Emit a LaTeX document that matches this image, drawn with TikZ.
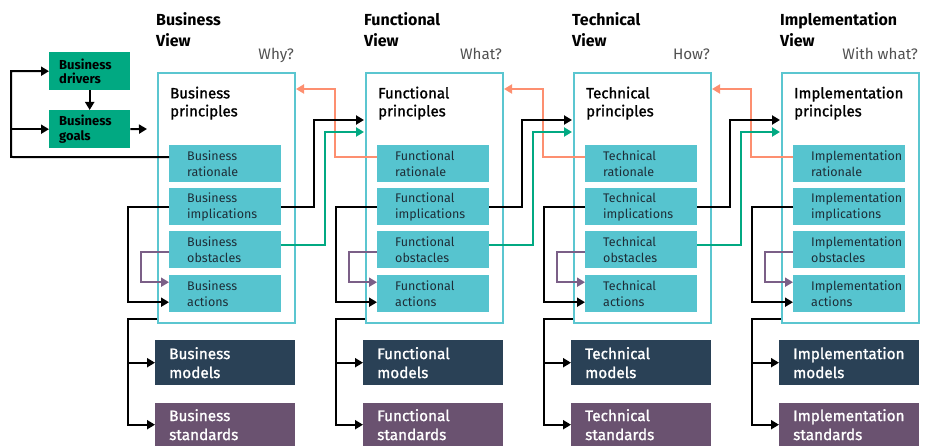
\documentclass[tikz,border=0pt]{standalone}
\usepackage{fontspec}
\setmainfont{Fira Sans}
\newfontfamily\medfont[FakeBold=1.2]{Fira Sans}
\usetikzlibrary{arrows.meta,calc}
\definecolor{cyanfill}{HTML}{56C4CF}
\definecolor{cyanline}{HTML}{5BC6D0}
\definecolor{hpegreen}{HTML}{01A982}
\definecolor{navy}{HTML}{2A4156}
\definecolor{plum}{HTML}{6A5270}
\definecolor{salmon}{HTML}{FD8F70}
\definecolor{plumline}{HTML}{7B5F87}
\definecolor{qgray}{HTML}{505050}
\definecolor{intext}{HTML}{1E2E38}
\begin{document}
\begin{tikzpicture}[x=1pt,y=-1pt,
  conn/.style={line width=2pt},
  arr/.style={conn,-{Triangle[length=8pt,width=9pt]}},
  blackarr/.style={arr,black},
  greenarr/.style={arr,hpegreen},
  salmonarr/.style={arr,salmon},
  plumarr/.style={arr,plumline},
  outerbox/.style={draw=cyanline,line width=2pt,fill=white,anchor=north west,inner sep=0pt,minimum width=137pt,minimum height=250pt},
  inbox/.style={fill=cyanfill,anchor=north west,inner sep=0pt,minimum width=112pt,minimum height=37pt},
  inlabel/.style={anchor=west,inner sep=0pt,align=left,text=intext,font=\fontsize{12.5}{16}\selectfont},
  title/.style={anchor=north west,inner sep=0pt,align=left,font=\bfseries\fontsize{16}{21}\selectfont},
  question/.style={anchor=base east,inner sep=0pt,text=qgray,font=\fontsize{15.2}{18}\selectfont},
  princ/.style={anchor=north west,inner sep=0pt,align=left,font=\medfont\fontsize{15}{18}\selectfont},
  modbox/.style={fill=navy,anchor=north west,inner sep=0pt,minimum width=140pt,minimum height=45pt},
  stdbox/.style={fill=plum,anchor=north west,inner sep=0pt,minimum width=140pt,minimum height=43pt},
  boxlabel/.style={anchor=west,inner sep=0pt,align=left,text=white,font=\medfont\fontsize{15.3}{19}\selectfont},
  greenbox/.style={fill=hpegreen,anchor=north west,inner xsep=10pt,inner ysep=0pt,minimum width=81pt,minimum height=38pt,text width=61pt,align=left,font=\bfseries\fontsize{13}{14.5}\selectfont}
]
\useasboundingbox (0,0) rectangle (937,446);

% left green boxes
\node[greenbox] (D) at (49,52) {Business\\drivers};
\node[greenbox] (G) at (49,110) {Business\\goals};

\foreach \i/\w/\q in {0/Business/Why?,1/Functional/What?,2/Technical/How?,3/Implementation/With what?}{
  \pgfmathsetmacro{\L}{157+208*\i}
  \node[title] (T\i) at (\L-1,12.5) {\w\\View};
  \node[question] (Q\i) at (\L+137,60) {\q};
  \node[outerbox] (P\i) at (\L,72) {};
  \node[princ] (Pt\i) at (\L+13,86.5) {\w\\principles};
  \node[inbox] (R\i) at (\L+12,145) {};
  \node[inlabel] (Rt\i) at ($(R\i.west)+(18,0)$) {\w\\rationale};
  \node[inbox] (I\i) at (\L+12,188) {};
  \node[inlabel] (It\i) at ($(I\i.west)+(18,0)$) {\w\\implications};
  \node[inbox] (O\i) at (\L+12,231) {};
  \node[inlabel] (Ot\i) at ($(O\i.west)+(18,0)$) {\w\\obstacles};
  \node[inbox] (A\i) at (\L+12,275) {};
  \node[inlabel] (At\i) at ($(A\i.west)+(18,0)$) {\w\\actions};
  \node[modbox] (M\i) at (\L-2,340) {};
  \node[boxlabel] (Mt\i) at ($(M\i.west)+(14,0)$) {\w\\models};
  \node[stdbox] (S\i) at (\L-2,403) {};
  \node[boxlabel] (St\i) at ($(S\i.west)+(14,0)$) {\w\\standards};
  % within-column connectors
  \draw[plumarr] ($(O\i.west)+(0,2.5)$) -- ++(-28,0) |- ($(A\i.west)+(0,-11.5)$);
  \draw[blackarr] (I\i.west) -- ++(-41,0) |- ($(A\i.west)+(0,8.5)$);
  \coordinate (B\i) at ($(P\i.south west)+(0,-5)$);
  \coordinate (Bc\i) at ($(B\i)+(-29,0)$);
  \draw[blackarr] (B\i) -- (Bc\i) |- (S\i.west);
  \draw[blackarr] (Bc\i) |- (M\i.west);
}

% between-column connectors
\foreach \i/\j in {0/1,1/2,2/3}{
  \draw[salmonarr] ($(R\j.west)+(0,-6.5)$) -- ++(-42,0) |- ($(P\i.north east)+(0,17)$);
  \draw[blackarr] (I\i.east) -- ++(33,0) |- ($(P\j.north west)+(-1,48)$);
  \draw[greenarr] ($(O\i.east)+(0,-4.5)$) -- ++(44,0) |- ($(P\j.north west)+(-1,60)$);
}

% business drivers / goals connectors
\coordinate (fbL) at (11,157);
\coordinate (gEnd) at (147,129);
\draw[blackarr] (D.south) -- (G.north);
\draw[blackarr] (G.east) -- (gEnd);
\draw[blackarr] ($(R0.west)+(0,-6.5)$) -- (fbL) |- (D.west);
\draw[blackarr] (fbL |- G.west) -- (G.west);
\end{tikzpicture}
\end{document}
